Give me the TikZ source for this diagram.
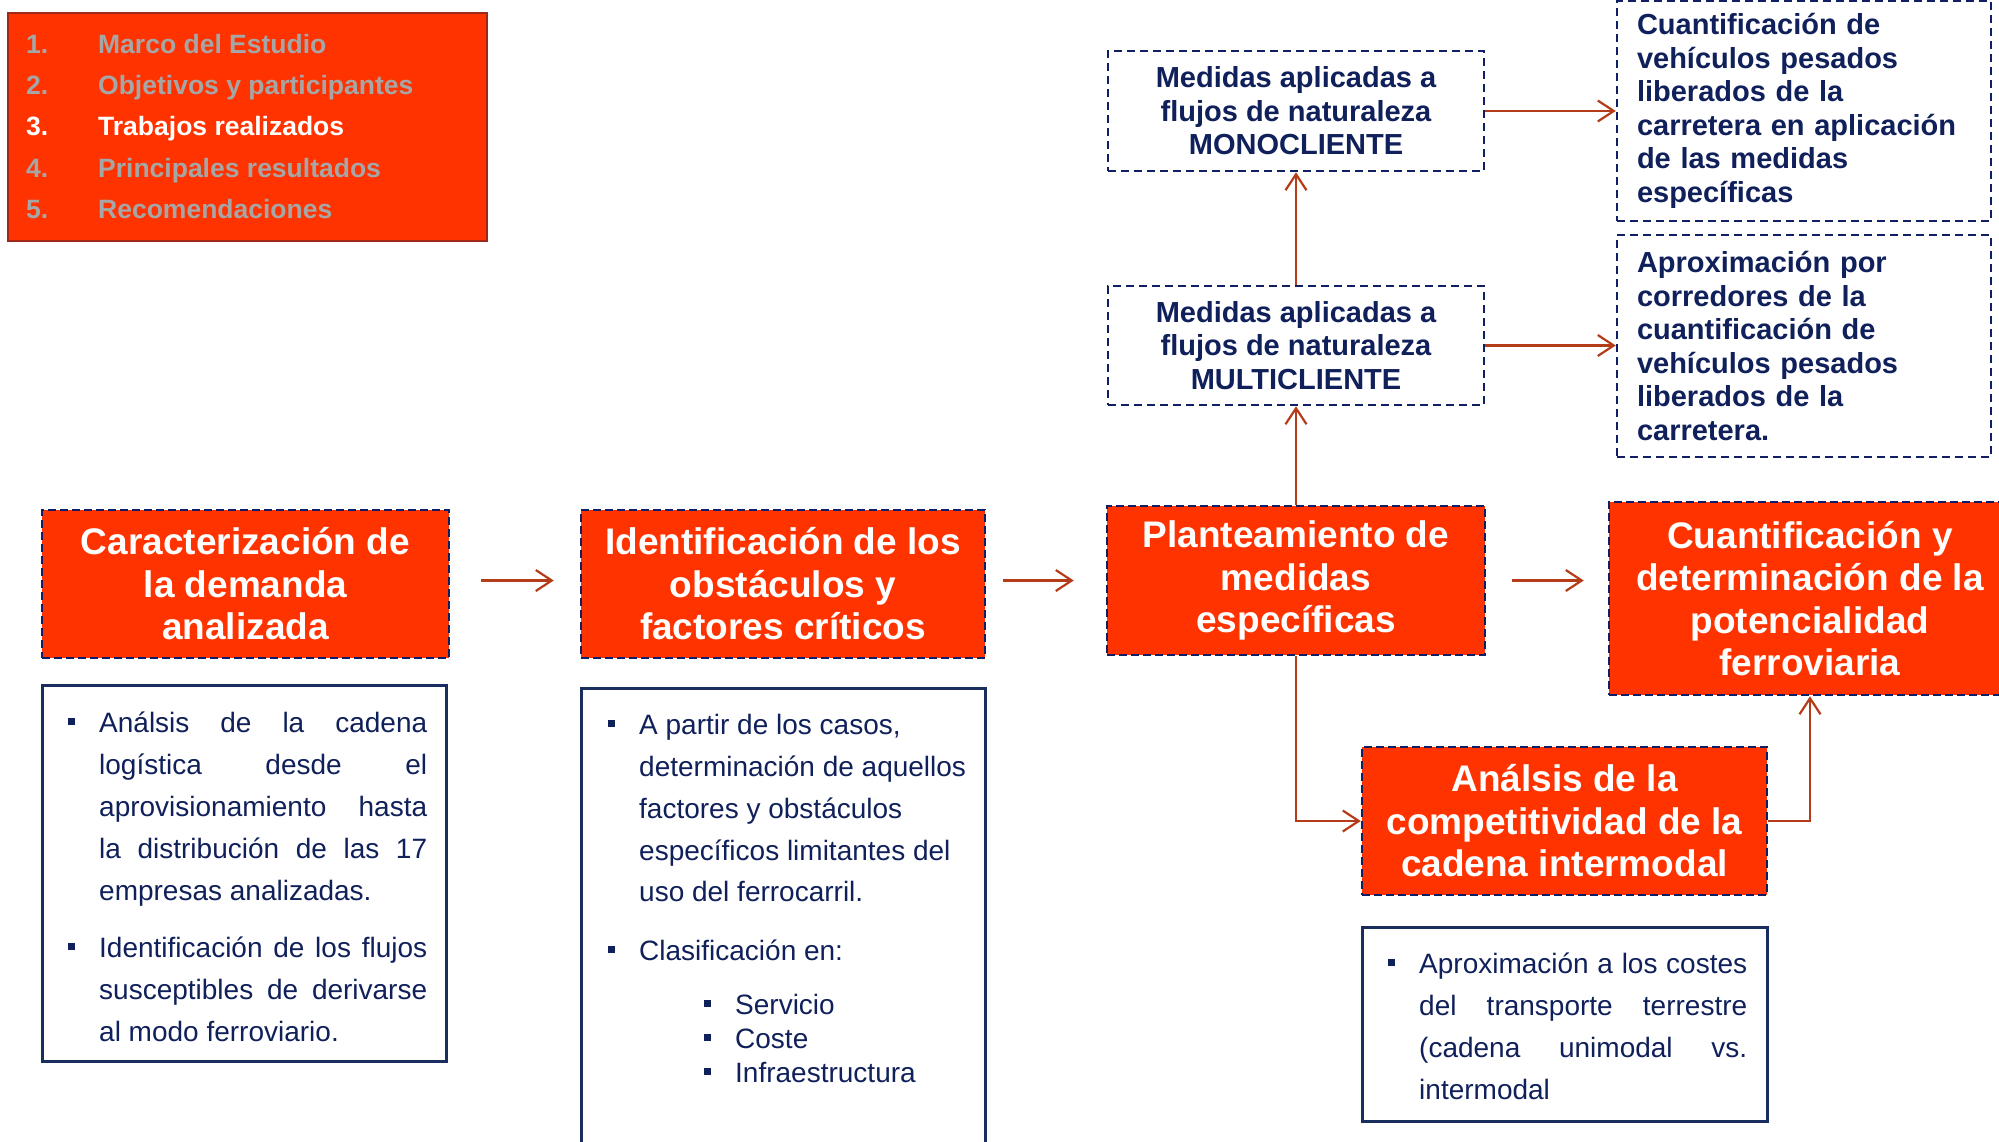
\documentclass[tikz,border=0pt]{standalone}
\usepackage{fontspec}
\setmainfont{Liberation Sans}
\usetikzlibrary{arrows.meta}
\definecolor{orng}{RGB}{255,51,0}
\definecolor{navy}{RGB}{16,30,100}
\definecolor{txtnavy}{RGB}{16,32,90}
\definecolor{boxnavy}{RGB}{25,45,95}
\definecolor{arr}{RGB}{180,60,25}
\definecolor{menured}{RGB}{160,40,25}
\definecolor{menugray}{RGB}{166,166,166}
\newcommand{\blt}{\llap{\textcolor{txtnavy}{\rule[7pt]{7pt}{7pt}}\hspace{24.5pt}}}
\begin{document}
\begin{tikzpicture}[x=1pt,y=-1pt,
  obox/.style={draw=navy, line width=2.5pt, dash pattern=on 8pt off 4pt, fill=orng, text=white,
    font=\bfseries\fontsize{37}{42.5}\selectfont, align=center, inner sep=0pt},
  dbox/.style={draw=navy, line width=2.5pt, dash pattern=on 8pt off 5pt, fill=white, text=txtnavy,
    font=\bfseries\fontsize{29}{33.5}\selectfont, inner sep=0pt},
  wbox/.style={draw=boxnavy, line width=3pt, fill=white, inner sep=0pt},
  ln/.style={anchor=base west, inner sep=0pt, text=txtnavy, font=\fontsize{28}{42}\selectfont},
  mn/.style={anchor=base west, inner sep=0pt, text=menugray, font=\bfseries\fontsize{26.5}{32}\selectfont},
  conn/.style={draw=arr, line width=2.2pt, -{Straight Barb[length=16pt,width=21pt]}}
]
\clip (0,0) rectangle (1999,1141);
\fill[white] (0,0) rectangle (1999,1141);

% menu
\node[draw=menured, line width=2.5pt, fill=orng, minimum width=479pt, minimum height=228pt, inner sep=0pt] (menu) at (247.5,127) {};
\node[mn] (m1) at (26,53) {\makebox[72pt][l]{1.}Marco del Estudio};
\node[mn] (m2) at (26,94) {\makebox[72pt][l]{2.}Objetivos y participantes};
\node[mn, text=white] (m3) at (26,135.5) {\makebox[72pt][l]{3.}Trabajos realizados};
\node[mn] (m4) at (26,177) {\makebox[72pt][l]{4.}Principales resultados};
\node[mn] (m5) at (26,218) {\makebox[72pt][l]{5.}Recomendaciones};

% main boxes
\node[obox, minimum width=407pt, minimum height=148pt] (b1) at (245.5,584) {Caracterización de\\la demanda\\analizada};
\node[obox, minimum width=404pt, minimum height=148pt] (b2) at (783,584) {Identificación de los\\obstáculos y\\factores críticos};
\node[obox, minimum width=378pt, minimum height=149pt] (b3) at (1296,580.5) {Planteamiento de\\medidas\\específicas};
\node[obox, minimum width=402pt, minimum height=193pt] (b4) at (1810,598.5) {Cuantificación y\\determinación de la\\potencialidad\\ferroviaria};
\node[obox, minimum width=405pt, minimum height=148pt] (b5) at (1564.5,821) {Análsis de la\\competitividad de la\\cadena intermodal};

% dashed white boxes
\node[dbox, align=center, minimum width=376pt, minimum height=120pt] (d1) at (1296,111) {Medidas aplicadas a\\flujos de naturaleza\\MONOCLIENTE};
\node[dbox, align=center, minimum width=376pt, minimum height=119pt] (d2) at (1296,345.5) {Medidas aplicadas a\\flujos de naturaleza\\MULTICLIENTE};
\node[dbox, align=left, text width=334pt, inner xsep=20pt, minimum height=220pt] (d3) at (1804,111) {Cuantificación de\\vehículos pesados\\liberados de la\\carretera en aplicación\\de las medidas\\específicas};
\node[dbox, align=left, text width=334pt, inner xsep=20pt, minimum height=222pt] (d4) at (1804,346) {Aproximación por\\corredores de la\\cuantificación de\\vehículos pesados\\liberados de la\\carretera.};

% white boxes
\node[wbox, minimum width=404pt, minimum height=376pt] (w1) at (244,873) {};
\node[wbox, minimum width=404pt, minimum height=482pt] (w2) at (783,929) {};
\node[wbox, minimum width=405pt, minimum height=194pt] (w3) at (1564.5,1024) {};

\node[ln] (w1a) at (99,732) {\blt\makebox[328pt][s]{Análsis de la cadena}};
\node[ln] (w1b) at (99,774) {\makebox[328pt][s]{logística desde el}};
\node[ln] (w1c) at (99,816) {\makebox[328pt][s]{aprovisionamiento hasta}};
\node[ln] (w1d) at (99,858) {\makebox[328pt][s]{la distribución de las 17}};
\node[ln] (w1e) at (99,900) {empresas analizadas.};
\node[ln] (w1f) at (99,957) {\blt\makebox[328pt][s]{Identificación de los flujos}};
\node[ln] (w1g) at (99,999) {\makebox[328pt][s]{susceptibles de derivarse}};
\node[ln] (w1h) at (99,1041) {al modo ferroviario.};

\node[ln] (w2a) at (639,734) {\blt A partir de los casos,};
\node[ln] (w2b) at (639,776) {determinación de aquellos};
\node[ln] (w2c) at (639,818) {factores y obstáculos};
\node[ln] (w2d) at (639,860) {específicos limitantes del};
\node[ln] (w2e) at (639,901) {uso del ferrocarril.};
\node[ln] (w2f) at (639,960) {\blt Clasificación en:};
\node[ln] (w2g) at (735,1014) {\blt Servicio};
\node[ln] (w2h) at (735,1048) {\blt Coste};
\node[ln] (w2i) at (735,1082) {\blt Infraestructura};

\node[ln] (w3a) at (1419,973) {\blt\makebox[328pt][s]{Aproximación a los costes}};
\node[ln] (w3b) at (1419,1015) {\makebox[328pt][s]{del transporte terrestre}};
\node[ln] (w3c) at (1419,1057) {\makebox[328pt][s]{(cadena unimodal vs.}};
\node[ln] (w3d) at (1419,1099) {intermodal};

% connectors
\draw[conn, shorten <=31pt, shorten >=26pt] (b1.east |- b3.west) -- (b2.west |- b3.west);
\draw[conn, shorten <=17pt, shorten >=32pt] (b2.east |- b3.west) -- (b3.west);
\draw[conn, shorten <=26pt, shorten >=24pt] (b3.east) -- (b3.east -| b4.west);
\draw[conn] (b3.north) -- (d2.south);
\draw[conn] (d2.north) -- (d1.south);
\draw[conn] (d1.east) -- (d1.east -| d3.west);
\draw[conn] (d2.east) -- (d2.east -| d4.west);
\draw[conn] (b3.south) |- (b5.west);
\draw[conn] (b5.east) -| (b4.south);
\end{tikzpicture}
\end{document}
